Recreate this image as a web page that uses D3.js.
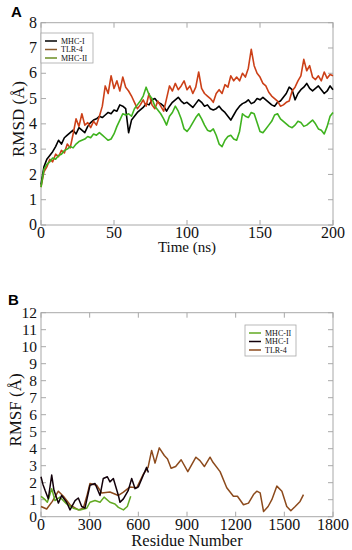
<!DOCTYPE html>
<html>
<head>
<meta charset="utf-8">
<script src="https://cdn.jsdelivr.net/npm/d3@7"></script>
<style>
  html, body { margin: 0; padding: 0; background: #fff; }
  svg { display: block; }
</style>
</head>
<body>
<div id="chart"></div>
<script>
// ---- Panel A: RMSD vs time (ns), sampled every 2 ns ----
const rmsdTime = d3.range(0, 201, 2);
const rmsdMHC1 = [1.6,2.3,2.6,2.75,2.9,3.1,3.35,3.2,3.45,3.55,3.65,3.75,3.6,3.85,3.75,3.65,3.9,4.05,4.15,4.2,
  4.3,4.25,4.35,4.45,4.4,4.55,4.5,4.75,4.7,4.6,3.65,4.15,4.3,4.45,4.55,4.65,4.8,4.75,4.95,5.0,
  4.85,4.8,4.7,4.5,4.7,4.85,4.95,5.05,4.9,4.8,4.85,4.75,4.65,4.8,4.95,4.85,4.7,4.75,4.6,4.55,
  4.6,4.7,4.55,4.45,4.3,4.15,4.35,4.55,4.7,4.8,4.85,4.95,4.8,4.85,5.0,4.95,5.05,4.95,4.85,4.75,
  4.7,4.85,4.9,5.05,5.2,5.45,5.35,4.95,5.2,5.35,5.45,5.6,5.4,5.3,5.4,5.5,5.35,5.2,5.3,5.5,5.35];
const rmsdTLR4 = [1.5,2.1,2.3,2.6,2.5,2.8,2.7,2.95,2.85,3.2,3.05,3.6,4.2,3.9,4.4,3.95,4.05,3.85,4.1,3.95,
  4.3,4.7,5.5,5.2,5.9,5.4,5.7,5.3,5.85,5.45,5.3,5.1,4.85,4.6,4.75,4.95,4.7,5.2,4.75,4.6,
  4.9,4.7,4.5,5.0,5.5,5.3,5.6,5.35,5.5,5.7,5.35,5.5,5.2,5.45,6.05,5.4,5.2,5.1,5.0,4.85,
  5.2,5.35,5.2,5.55,5.45,5.9,5.7,5.85,5.7,6.0,5.85,6.2,6.95,6.3,6.0,5.85,5.6,5.5,5.25,5.1,
  5.0,4.9,4.7,4.75,4.85,4.9,5.3,5.45,5.7,5.9,6.55,6.1,6.3,5.85,5.75,5.9,5.7,6.05,5.8,5.95,5.9];
const rmsdMHC2 = [1.5,2.2,2.4,2.5,2.65,2.6,2.75,2.8,2.95,3.0,3.1,3.05,3.2,3.3,3.35,3.4,3.5,3.45,3.6,3.55,
  3.65,3.55,3.45,3.35,3.4,3.6,3.9,4.15,4.4,4.35,4.4,4.3,4.6,4.75,4.9,5.1,5.45,5.15,5.0,4.7,
  4.55,4.4,4.2,3.95,4.3,4.45,4.7,4.5,4.2,3.8,3.7,3.85,4.05,4.25,4.4,4.2,3.95,3.75,3.7,3.8,
  3.55,3.2,3.1,3.35,3.5,3.55,3.4,3.35,3.7,4.4,4.3,4.25,4.45,4.4,4.05,3.7,3.65,3.8,3.95,4.1,
  4.35,4.4,4.2,4.1,4.0,3.9,3.85,3.95,4.1,4.05,3.9,3.95,4.05,4.15,4.0,3.8,3.75,3.6,3.9,4.3,4.45];

// ---- Panel B: RMSF vs residue number ----
const rmsfResMHC2 = [0,20,39,55,66,86,117,158,199,240,282,302,333,364,389,425,456,477,508,532,553];
const rmsfMHC2 = [1.2,1.05,0.85,1.3,1.65,0.95,1.15,0.75,0.5,0.4,0.5,0.85,0.95,0.85,1.15,0.85,0.75,0.55,0.4,0.6,1.2];
const rmsfResMHC1 = [0,12,25,45,66,80,107,127,158,179,210,230,251,271,302,333,364,384,409,425,446,477,487,508,538,559,580,600,631,651,662];
const rmsfMHC1 = [2.35,1.9,1.55,1.05,2.45,1.55,0.8,1.25,0.85,0.4,0.95,1.1,0.6,0.5,1.85,1.95,1.25,2.25,2.35,2.05,2.25,1.25,0.85,1.05,1.55,2.25,1.65,1.75,2.45,2.9,2.6];
const rmsfResTLR4 = [0,35,70,107,138,179,230,261,285,302,343,374,425,477,508,549,590,631,660,682,703,729,760,780,802,830,864,905,955,980,1007,1042,1060,1104,1145,1186,1211,1248,1279,1310,1330,1351,1372,1400,1423,1454,1485,1515,1540,1567,1597,1618];
const rmsfTLR4 = [0.6,0.45,0.9,1.5,1.2,0.7,0.4,0.5,1.3,1.95,1.85,1.4,1.45,1.25,1.45,1.75,1.7,2.5,2.9,3.9,3.15,4.05,3.6,3.4,2.85,2.95,3.35,2.65,3.5,3.3,2.95,3.5,3.2,2.65,1.7,1.2,1.2,0.7,0.8,1.3,1.5,1.4,0.3,0.6,1.0,1.8,1.5,0.6,0.35,0.6,0.9,1.3];

const xTicksA = [0, 50, 100, 150, 200];
const yTicksA = [0, 1, 2, 3, 4, 5, 6, 7, 8];
const xTicksB = [0, 300, 600, 900, 1200, 1500, 1800];
const yTicksB = d3.range(0, 13);

const W = 352, H = 550;
const serif = '"Liberation Serif", "Times New Roman", serif';
const frameColor = '#a8a8a8';

const svg = d3.select('#chart').append('svg')
  .attr('width', W).attr('height', H)
  .attr('viewBox', `0 0 ${W} ${H}`);

function drawPanel(opt) {
  const x = d3.scaleLinear().domain(opt.xDomain).range([41, 333]);
  const y = d3.scaleLinear().domain(opt.yDomain).range([opt.bottom, opt.top]);
  const g = svg.append('g');

  // frame
  g.append('rect')
    .attr('x', x.range()[0]).attr('y', opt.top)
    .attr('width', x.range()[1] - x.range()[0]).attr('height', opt.bottom - opt.top)
    .attr('fill', 'none').attr('stroke', frameColor).attr('stroke-width', 1);

  // inward ticks on all four sides
  const tl = 5;
  opt.xTicks.forEach(v => {
    g.append('line').attr('x1', x(v)).attr('x2', x(v)).attr('y1', opt.bottom).attr('y2', opt.bottom - tl)
      .attr('stroke', frameColor);
    g.append('line').attr('x1', x(v)).attr('x2', x(v)).attr('y1', opt.top).attr('y2', opt.top + tl)
      .attr('stroke', frameColor);
    g.append('text').attr('x', x(v)).attr('y', opt.bottom + 13)
      .attr('text-anchor', 'middle').attr('font-family', serif).attr('font-size', 16)
      .attr('fill', '#111').text(v);
  });
  opt.yTicks.forEach(v => {
    g.append('line').attr('x1', x.range()[0]).attr('x2', x.range()[0] + tl).attr('y1', y(v)).attr('y2', y(v))
      .attr('stroke', frameColor);
    g.append('line').attr('x1', x.range()[1]).attr('x2', x.range()[1] - tl).attr('y1', y(v)).attr('y2', y(v))
      .attr('stroke', frameColor);
    g.append('text').attr('x', 37).attr('y', y(v)).attr('dy', '0.32em')
      .attr('text-anchor', 'end').attr('font-family', serif).attr('font-size', opt.yFont)
      .attr('fill', '#111').text(v);
  });

  // series
  const line = d3.line().x(d => x(d[0])).y(d => y(d[1]));
  opt.series.forEach(s => {
    g.append('path')
      .datum(s.xs.map((xv, i) => [xv, s.ys[i]]))
      .attr('d', line)
      .attr('fill', 'none').attr('stroke', s.color).attr('stroke-width', s.width || 1.3)
      .attr('stroke-linejoin', 'round');
  });

  // axis titles
  g.append('text').attr('x', 187).attr('y', opt.xTitleY)
    .attr('text-anchor', 'middle').attr('font-family', serif).attr('font-size', opt.xTitleSize)
    .attr('fill', '#111').text(opt.xTitle);
  g.append('text').attr('transform', `translate(${opt.yTitleX},${opt.yTitleCY}) rotate(-90)`)
    .attr('text-anchor', 'middle').attr('font-family', serif).attr('font-size', 17)
    .attr('fill', '#111').text(opt.yTitle);

  // panel letter
  g.append('text').attr('x', opt.letterX).attr('y', opt.letterY)
    .attr('font-family', 'Arial, "Liberation Sans", sans-serif').attr('font-weight', 'bold')
    .attr('font-size', 15).attr('fill', '#000').text(opt.letter);

  // legend
  const lg = g.append('g').attr('transform', `translate(${opt.legend.x},${opt.legend.y})`);
  lg.append('rect').attr('width', opt.legend.w).attr('height', opt.legend.h)
    .attr('fill', '#fff').attr('stroke', frameColor).attr('stroke-width', 0.8);
  opt.legend.items.forEach((it, i) => {
    const yy = 8 + i * 8.5;
    lg.append('line').attr('x1', 4).attr('x2', 16).attr('y1', yy).attr('y2', yy)
      .attr('stroke', it.color).attr('stroke-width', 1.5);
    lg.append('text').attr('x', 20).attr('y', yy).attr('dy', '0.33em')
      .attr('font-family', serif).attr('font-size', 8).attr('fill', '#111').text(it.name);
  });
}

drawPanel({
  letter: 'A', letterX: 11, letterY: 17,
  xDomain: [0, 200], yDomain: [0, 8], top: 22.7, bottom: 225,
  xTicks: xTicksA, yTicks: yTicksA, yFont: 16,
  xTitle: 'Time (ns)', xTitleY: 252, xTitleSize: 15,
  yTitle: 'RMSD (Å)', yTitleX: 24, yTitleCY: 119,
  series: [
    { xs: rmsdTime, ys: rmsdMHC1, color: '#000000', width: 1.6 },
    { xs: rmsdTime, ys: rmsdTLR4, color: '#cc4018', width: 1.6 },
    { xs: rmsdTime, ys: rmsdMHC2, color: '#3fb31f', width: 1.6 }
  ],
  legend: { x: 41, y: 33, w: 52, h: 30, items: [
    { name: 'MHC-I', color: '#000000' },
    { name: 'TLR-4', color: '#8b5a2b' },
    { name: 'MHC-II', color: '#6b8e23' }
  ] }
});

drawPanel({
  letter: 'B', letterX: 8, letterY: 305,
  xDomain: [0, 1800], yDomain: [0, 12], top: 312.7, bottom: 516.7,
  xTicks: xTicksB, yTicks: yTicksB, yFont: 15.5,
  xTitle: 'Residue Number', xTitleY: 546, xTitleSize: 16.5,
  yTitle: 'RMSF (Å)', yTitleX: 21, yTitleCY: 410,
  series: [
    { xs: rmsfResTLR4, ys: rmsfTLR4, color: '#8c4a1c', width: 1.5 },
    { xs: rmsfResMHC2, ys: rmsfMHC2, color: '#62aa22', width: 1.5 },
    { xs: rmsfResMHC1, ys: rmsfMHC1, color: '#12000a', width: 1.5 }
  ],
  legend: { x: 245, y: 325, w: 51, h: 31, items: [
    { name: 'MHC-II', color: '#62aa22' },
    { name: 'MHC-I', color: '#12000a' },
    { name: 'TLR-4', color: '#8c4a1c' }
  ] }
});
</script>
</body>
</html>
